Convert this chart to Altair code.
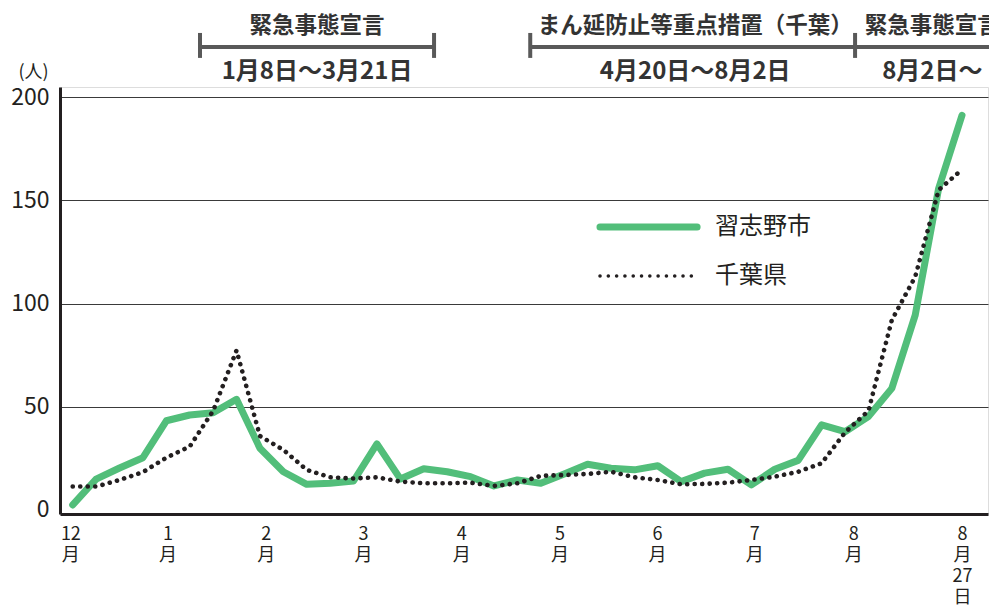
import altair as alt
import pandas as pd

# ---------------- data ----------------
week = list(range(39))
narashino = [2.4, 14.9, 20.3, 25.3, 43.2, 46.0, 47.1, 53.6, 29.9, 18.5,
             12.4, 12.9, 14.0, 32.0, 15.0, 19.9, 18.5, 16.1, 11.6, 14.5,
             12.9, 17.4, 22.1, 20.2, 19.4, 21.4, 13.7, 17.8, 19.7, 12.1,
             19.7, 24.0, 41.2, 37.9, 45.2, 58.9, 94.4, 155.8, 191.3]
chiba = [11.3, 11.3, 14.5, 18.3, 25.3, 30.7, 48.0, 77.3, 35.8, 29.1,
         19.4, 15.8, 15.2, 15.8, 13.7, 12.9, 12.9, 13.2, 11.6, 12.9,
         16.5, 16.9, 17.4, 18.5, 15.8, 14.5, 12.4, 12.6, 13.2, 14.5,
         16.1, 18.5, 22.6, 37.5, 48.0, 92.0, 113.0, 155.0, 165.0]

tick_values = [-0.1, 4.05, 8.25, 12.4, 16.6, 20.8, 24.97, 29.12, 33.35, 38.0]
tick_labels = [["12", "月"], ["1", "月"], ["2", "月"], ["3", "月"], ["4", "月"],
               ["5", "月"], ["6", "月"], ["7", "月"], ["8", "月"],
               ["8", "月", "27", "日"]]
y_ticks = [0, 50, 100, 150, 200]

period_titles = ["緊急事態宣言", "まん延防止等重点措置（千葉）", "緊急事態宣言"]
period_dates = ["1月8日～3月21日", "4月20日～8月2日", "8月2日～"]
period_start = [5.44, 19.55, 33.43]
period_end = [15.44, 33.43, 39.5]
period_center = [10.44, 26.6, 36.73]
cap_x = [5.44, 15.44, 19.55, 33.43]
bracket_y = 224.4
cap_y = [219.1, 231.2]
title_y = 234.6
date_y = 212.3

legend_names = ["習志野市", "千葉県"]
legend_x = [22.53, 26.68]
legend_label_x = 27.45
legend_y = [137.1, 113.4]

GREEN = "#52BE7A"
BLACK = "#231F20"
GREY = "#595959"
FONT = "Noto Sans CJK JP"

# ---------------- frames ----------------
df_n = pd.DataFrame({"x": week, "y": narashino})
df_c = pd.DataFrame({"x": week, "y": chiba})
df_br = pd.DataFrame({"x": period_start, "x2": period_end, "y": [bracket_y] * 3})
df_cap = pd.DataFrame({"x": cap_x, "y": [cap_y[0]] * 4, "y2": [cap_y[1]] * 4})
df_title = pd.DataFrame({"x": period_center, "y": [title_y] * 3, "t": period_titles})
df_date = pd.DataFrame({"x": period_center, "y": [date_y] * 3, "t": period_dates})
df_leg_g = pd.DataFrame({"x": legend_x, "y": [legend_y[0]] * 2})
df_leg_c = pd.DataFrame({"x": legend_x, "y": [legend_y[1]] * 2})
df_leg_t = pd.DataFrame({"x": [legend_label_x] * 2, "y": legend_y, "t": legend_names})

label_expr = ""
for v, lab in zip(tick_values, tick_labels):
    arr = "[" + ",".join("'" + s + "'" for s in lab) + "]"
    label_expr += f"abs(datum.value - ({v})) < 0.01 ? {arr} : "
label_expr += "''"

x_min, x_max = -0.543, 39.11
x_enc = alt.X("x:Q",
              scale=alt.Scale(domain=[x_min, x_max], nice=False, zero=False),
              axis=alt.Axis(values=tick_values, labelExpr=label_expr, grid=False,
                            ticks=False, domainColor=BLACK, domainWidth=3,
                            labelFontSize=18, labelLineHeight=21, labelPadding=11,
                            labelColor=BLACK, labelFont=FONT, labelFlush=False,
                            labelOverlap=False, labelAlign="center",
                            labelBaseline="top", title=None))
y_enc = alt.Y("y:Q",
              scale=alt.Scale(domain=[-2, 205], nice=False, zero=False),
              axis=alt.Axis(values=y_ticks, grid=True, gridColor="#3a3a3a", gridWidth=1,
                            gridOpacity={"condition": {"test": "datum.value === 0", "value": 0}, "value": 1},
                            ticks=False, domainColor=BLACK, domainWidth=3,
                            labelFontSize=23, labelPadding=11, labelColor=BLACK,
                            labelFont=FONT, title="(人)", titleAngle=0,
                            titleX=-27, titleY=-15, titleFontSize=18,
                            titleFontWeight="normal", titleAlign="center",
                            titleBaseline="middle", titleColor=BLACK, titleFont=FONT))

chiba_line = alt.Chart(df_c).mark_line(
    color=BLACK, strokeWidth=4.6, strokeDash=[0.1, 7.4], strokeCap="round"
).encode(x=x_enc, y=y_enc)

nara_line = alt.Chart(df_n).mark_line(
    color=GREEN, strokeWidth=7, strokeCap="round", strokeJoin="round"
).encode(x=x_enc, y=y_enc)

brackets = alt.Chart(df_br).mark_rule(color=GREY, strokeWidth=4).encode(
    x=x_enc, x2="x2:Q", y=y_enc)
caps = alt.Chart(df_cap).mark_rule(color=GREY, strokeWidth=4).encode(
    x=x_enc, y=y_enc, y2="y2:Q")
titles = alt.Chart(df_title).mark_text(
    font=FONT, fontSize=22.5, fontWeight="bold", color="#333333",
    align="center", baseline="middle"
).encode(x=x_enc, y=y_enc, text="t:N")
dates = alt.Chart(df_date).mark_text(
    font=FONT, fontSize=24, fontWeight="bold", color="#333333",
    align="center", baseline="middle"
).encode(x=x_enc, y=y_enc, text="t:N")

leg_g = alt.Chart(df_leg_g).mark_line(
    color=GREEN, strokeWidth=7, strokeCap="round").encode(x=x_enc, y=y_enc)
leg_c = alt.Chart(df_leg_c).mark_line(
    color=BLACK, strokeWidth=3.5, strokeDash=[0.1, 8.2], strokeCap="round").encode(x=x_enc, y=y_enc)
leg_t = alt.Chart(df_leg_t).mark_text(
    font=FONT, fontSize=24, color=BLACK, align="left", baseline="middle"
).encode(x=x_enc, y=y_enc, text="t:N")

chart = alt.layer(
    nara_line, chiba_line, brackets, caps, titles, dates, leg_g, leg_c, leg_t
).properties(
    width=928, height=427,
    autosize=alt.AutoSizeParams(type="none"),
    padding={"left": 52, "top": 79, "right": 1, "bottom": 92},
).configure_view(stroke=None).configure(font=FONT)

chart.save("out.html", embed_options={"renderer": "svg", "actions": False})
